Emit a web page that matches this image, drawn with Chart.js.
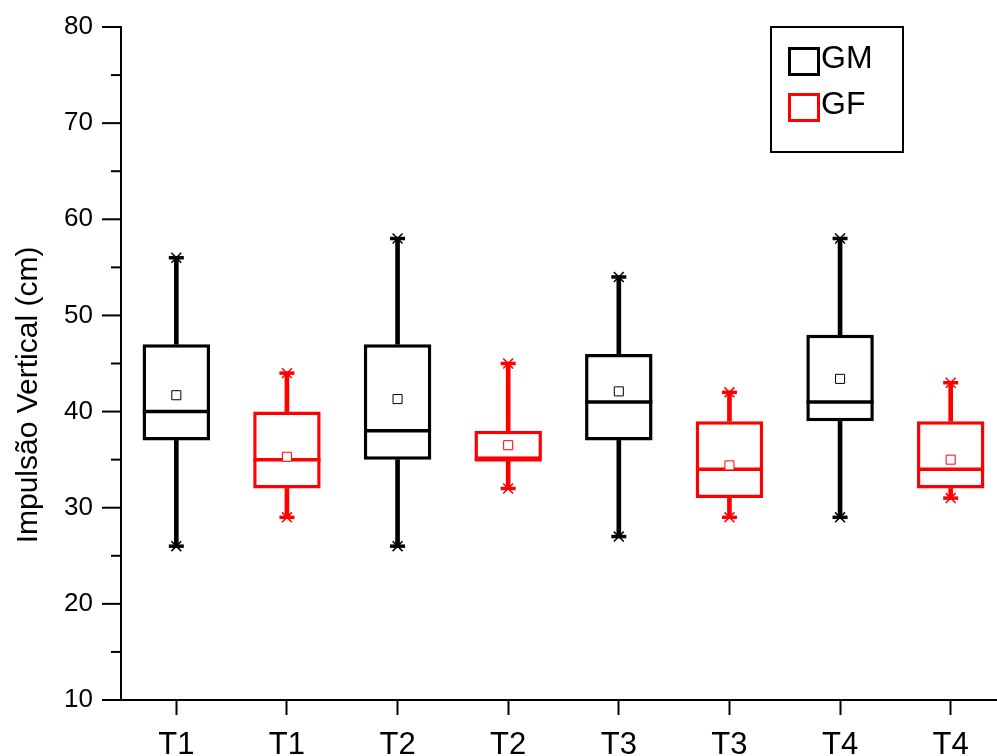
<!DOCTYPE html>
<html>
<head>
<meta charset="utf-8">
<script src="https://cdn.jsdelivr.net/npm/chart.js@4.4.1/dist/chart.umd.min.js"></script>
<style>
  html, body { margin: 0; padding: 0; overflow: hidden; background: #ffffff; width: 997px; height: 756px; }
  canvas { display: block; }
</style>
</head>
<body>
<canvas id="chart" width="1006" height="772"></canvas>
<script>
// Category labels along the x axis (GM and GF alternate within each test)
const categories = ['T1', 'T1', 'T2', 'T2', 'T3', 'T3', 'T4', 'T4'];
const yTickLabels = ['10', '20', '30', '40', '50', '60', '70', '80'];
const groupNames = ['GM', 'GF'];

// GM: five-number summary and mean for T1..T4 (cm)
const gmMin    = [26, 26, 27, 29];
const gmQ1     = [37, 35, 37, 39];
const gmMedian = [40, 38, 41, 41];
const gmQ3     = [47, 47, 46, 48];
const gmMax    = [56, 58, 54, 58];
const gmMean   = [41.7, 41.3, 42.1, 43.4];

// GF: five-number summary and mean for T1..T4 (cm)
const gfMin    = [29, 32, 29, 31];
const gfQ1     = [32, 35, 31, 32];
const gfMedian = [35, 35, 34, 34];
const gfQ3     = [40, 38, 39, 39];
const gfMax    = [44, 45, 42, 43];
const gfMean   = [35.3, 36.5, 34.4, 35.0];

const COLORS = { GM: '#000000', GF: '#ff0000' };
const FONT = "'Liberation Sans', Arial, Helvetica, sans-serif";

// Put a group's four values into its slots (GM even, GF odd)
function slots(values, offset) {
  const out = new Array(categories.length).fill(null);
  values.forEach((v, i) => { out[2 * i + offset] = v; });
  return out;
}
function rangeSlots(lo, hi, offset) {
  const out = new Array(categories.length).fill(null);
  lo.forEach((v, i) => { out[2 * i + offset] = [v, hi[i]]; });
  return out;
}

function groupDatasets(name, offset, s) {
  const c = COLORS[name];
  const pointBase = { type: 'line', showLine: false, borderColor: c, pointBorderColor: c, spanGaps: false };
  const top = [
    Object.assign({}, pointBase, { label: name + ' mean', data: slots(s.mean, offset),
      pointStyle: 'rect', pointRadius: 6.4, pointBorderWidth: 1, pointBackgroundColor: '#ffffff' }),
    Object.assign({}, pointBase, { label: name + ' median', data: slots(s.median, offset),
      pointStyle: 'line', pointRadius: 33.5, pointBorderWidth: 3.5 })
  ];
  // whisker ends: a short horizontal cap with a diagonal cross
  [s.min, s.max].forEach((vals, k) => {
    const tag = k === 0 ? ' min' : ' max';
    top.push(Object.assign({}, pointBase, { label: name + tag, data: slots(vals, offset),
      pointStyle: 'crossRot', pointRadius: 7, pointBorderWidth: 1.5 }));
    top.push(Object.assign({}, pointBase, { label: name + tag + ' cap', data: slots(vals, offset),
      pointStyle: 'line', pointRadius: 7.5, pointBorderWidth: 3.5 }));
  });
  const bars = [
    { type: 'bar', label: name, data: rangeSlots(s.q1, s.q3, offset),
      backgroundColor: '#ffffff', borderColor: c, borderWidth: 3.5, borderSkipped: false,
      grouped: false, barPercentage: 0.61, categoryPercentage: 1 },
    { type: 'bar', label: name + ' lower whisker', data: rangeSlots(s.min, s.q1, offset),
      backgroundColor: c, borderWidth: 0, grouped: false, barThickness: 4 },
    { type: 'bar', label: name + ' upper whisker', data: rangeSlots(s.q3, s.max, offset),
      backgroundColor: c, borderWidth: 0, grouped: false, barThickness: 4 }
  ];
  return { top, bars };
}

const gm = groupDatasets('GM', 0, { min: gmMin, q1: gmQ1, median: gmMedian, q3: gmQ3, max: gmMax, mean: gmMean });
const gf = groupDatasets('GF', 1, { min: gfMin, q1: gfQ1, median: gfMedian, q3: gfQ3, max: gfMax, mean: gfMean });

// Tick marks on the y axis (long at labelled values, short in between),
// the framed legend and the rotated axis title
const decor = {
  id: 'decor',
  afterDraw(chart) {
    const { ctx, chartArea } = chart;
    const y = chart.scales.y;
    ctx.save();
    ctx.strokeStyle = '#000';
    ctx.lineWidth = 2;
    y.ticks.forEach(t => {
      const py = y.getPixelForValue(t.value);
      const len = yTickLabels.includes(String(t.value)) ? 19 : 10;
      ctx.beginPath();
      ctx.moveTo(chartArea.left - len, py);
      ctx.lineTo(chartArea.left, py);
      ctx.stroke();
    });

    // legend frame
    ctx.lineWidth = 2;
    ctx.strokeRect(771, 27, 132, 125);
    ctx.font = '32px ' + FONT;
    ctx.textBaseline = 'middle';
    ctx.textAlign = 'left';
    groupNames.forEach((name, i) => {
      const top = 47 + i * 46;
      ctx.strokeStyle = COLORS[name];
      ctx.lineWidth = 3;
      ctx.strokeRect(789.5, top + 1.5, 29, 26);
      ctx.fillStyle = '#000';
      ctx.fillText(name, 821, top + 12);
    });

    // y axis title
    ctx.translate(37, 395);
    ctx.rotate(-Math.PI / 2);
    ctx.font = '30px ' + FONT;
    ctx.textAlign = 'center';
    ctx.textBaseline = 'alphabetic';
    ctx.fillStyle = '#000';
    ctx.fillText('Impulsão Vertical (cm)', 0, 0);
    ctx.restore();
  }
};

new Chart(document.getElementById('chart'), {
  type: 'bar',
  data: {
    labels: categories,
    datasets: [...gm.top, ...gf.top, ...gm.bars, ...gf.bars]
  },
  options: {
    responsive: false,
    animation: false,
    devicePixelRatio: 1,
    layout: { autoPadding: false, padding: { top: 27, left: 0, right: 0, bottom: 0 } },
    plugins: { legend: { display: false }, tooltip: { enabled: false } },
    scales: {
      x: {
        type: 'category',
        offset: true,
        grid: { display: true, drawOnChartArea: false, drawTicks: true, tickLength: 15,
                tickWidth: 2, tickColor: '#000', offset: false },
        border: { display: true, color: '#000', width: 2 },
        ticks: { color: '#000', padding: 12, autoSkip: false, maxRotation: 0,
                 font: { family: FONT, size: 31 } },
        afterFit(scale) {
          scale.height = 72;
          scale.paddingLeft = 0;
          scale.paddingRight = 0;
        }
      },
      y: {
        min: 10,
        max: 80,
        grid: { display: false, drawTicks: false },
        border: { display: true, color: '#000', width: 2 },
        ticks: { stepSize: 5, autoSkip: false, padding: 28, color: '#000',
                 font: { family: FONT, size: 26 },
                 callback: v => (yTickLabels.includes(String(v)) ? String(v) : '') },
        afterFit(scale) {
          scale.width = 121;
          scale.paddingTop = 0;
          scale.paddingBottom = 0;
        }
      }
    }
  },
  plugins: [decor]
});
</script>
</body>
</html>
